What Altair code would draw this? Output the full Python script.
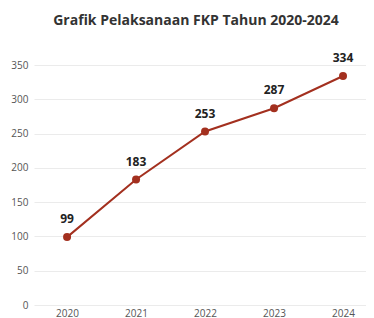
import altair as alt
import pandas as pd

years = ["2020", "2021", "2022", "2023", "2024"]
values = [99, 183, 253, 287, 334]

df = pd.DataFrame({"Tahun": years, "Jumlah": values})

FONT = "Open Sans"
RED = "#a3301f"

base = alt.Chart(df).encode(
    x=alt.X("Tahun:O", scale=alt.Scale(type="point", padding=0.406, align=0.59),
            axis=alt.Axis(title=None, labelAngle=0, domain=False, ticks=False,
                          labelPadding=3, labelFontSize=10, labelColor="#555",
                          labelFont=FONT, grid=False)),
    y=alt.Y("Jumlah:Q", scale=alt.Scale(domain=[0, 350], nice=False),
            axis=alt.Axis(title=None, values=[0, 50, 100, 150, 200, 250, 300, 350],
                          domain=False, ticks=False, labelPadding=6,
                          labelFontSize=10, labelColor="#555", labelFont=FONT,
                          gridColor="#ebebeb", gridWidth=1)),
)

line = base.mark_line(color=RED, strokeWidth=2)
points = base.mark_circle(color=RED, size=64, opacity=1)
labels = base.mark_text(dy=-18, fontSize=12, fontWeight="bold", color="#222",
                        font=FONT).encode(text="Jumlah:Q")

chart = (line + points + labels).properties(
    width=332, height=240,
    title=alt.TitleParams("Grafik Pelaksanaan FKP Tahun 2020-2024", fontSize=14,
                          fontWeight="bold", color="#333", font=FONT,
                          offset=24, dx=-4),
    autosize=alt.AutoSizeParams(type="none"),
    padding={"left": 26, "top": 57, "right": 0, "bottom": 13},
).configure_view(stroke=None)

chart.save("out.html", embed_options={"renderer": "svg", "actions": False})
